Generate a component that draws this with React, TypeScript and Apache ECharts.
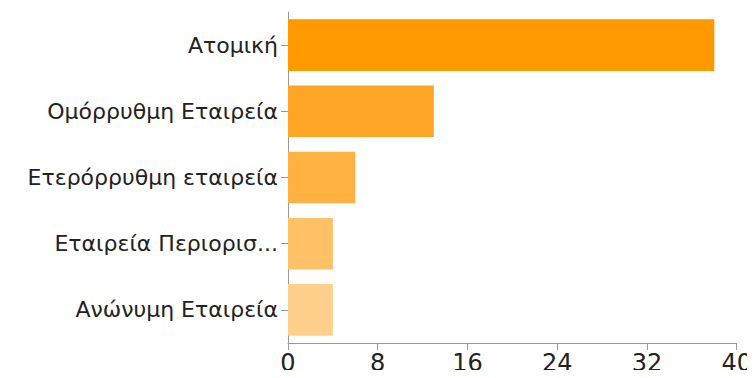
import React, { useEffect, useRef } from "react";
import * as echarts from "echarts";

const categories = [
  "Ατομική",
  "Ομόρρυθμη Εταιρεία",
  "Ετερόρρυθμη εταιρεία",
  "Εταιρεία Περιορισ...",
  "Ανώνυμη Εταιρεία",
];
const values = [38, 13, 6, 4, 4];
const barColors = ["#FF9900", "#FFA526", "#FFB142", "#FFC166", "#FFCF8C"];
const xTicks = [0, 8, 16, 24, 32, 40];

export default function App() {
  const ref = useRef<HTMLDivElement>(null);
  useEffect(() => {
    if (!ref.current) return;
    const chart = echarts.init(ref.current, null, { renderer: "svg" });
    chart.setOption({
      animation: false,
      backgroundColor: "#ffffff",
      grid: { left: 288, right: 16, top: 12, bottom: 35, containLabel: false },
      xAxis: {
        type: "value",
        min: xTicks[0],
        max: xTicks[xTicks.length - 1],
        interval: 8,
        axisLine: { show: true, lineStyle: { color: "#9a9a9a", width: 1 } },
        axisTick: { show: true, length: 7, lineStyle: { color: "#9a9a9a" } },
        splitLine: { show: false },
        axisLabel: {
          color: "#222222",
          fontFamily: "DejaVu Sans",
          fontSize: 24,
          margin: 8,
        },
      },
      yAxis: {
        type: "category",
        data: categories,
        inverse: true,
        axisLine: { show: true, lineStyle: { color: "#9a9a9a", width: 1 } },
        axisTick: { show: true, length: 7, alignWithLabel: true, lineStyle: { color: "#9a9a9a" } },
        axisLabel: {
          color: "#222222",
          fontFamily: "DejaVu Sans",
          fontSize: 22,
          margin: 10,
        },
      },
      series: [
        {
          type: "bar",
          data: values.map((v, i) => ({ value: v, itemStyle: { color: barColors[i] } })),
          barCategoryGap: "22%",
        },
      ],
    });
    return () => chart.dispose();
  }, []);
  return <div ref={ref} style={{ width: 755, height: 378, margin: -8 }} />;
}
